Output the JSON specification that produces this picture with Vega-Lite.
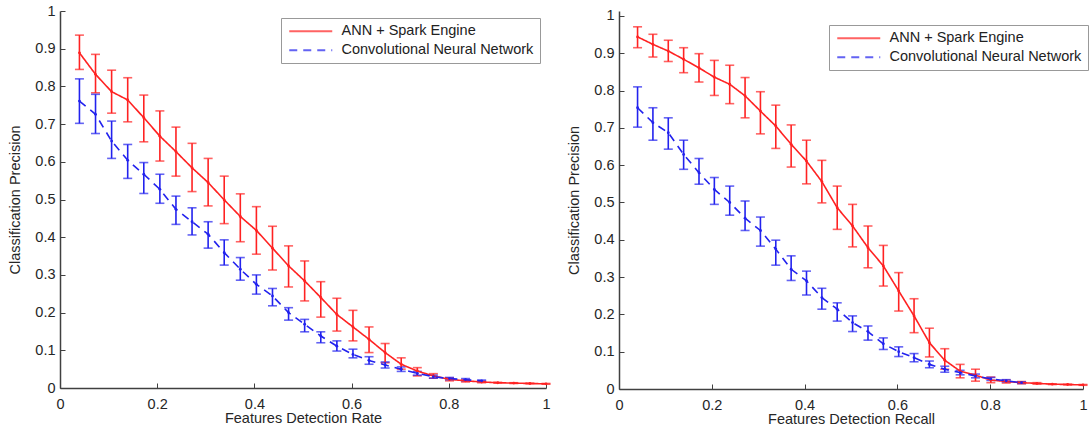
{
  "$schema": "https://vega.github.io/schema/vega-lite/v6.json",
  "background": "white",
  "padding": {"left": 7, "top": 3, "right": 2, "bottom": 2},
  "spacing": 73,
  "bounds": "flush",
  "config": {
    "font": "Liberation Sans",
    "view": {"stroke": null},
    "axis": {
      "labelFont": "Liberation Sans",
      "titleFont": "Liberation Sans",
      "labelFontSize": 14.5,
      "titleFontSize": 14.5,
      "titleFontWeight": "normal",
      "labelColor": "#262626",
      "titleColor": "#262626",
      "domainColor": "#404040",
      "tickColor": "#404040",
      "domainWidth": 1.5,
      "grid": false,
      "tickSize": -5,
      "labelFlush": false
    },
    "axisX": {"labelPadding": 14, "titlePadding": 1},
    "axisY": {"labelPadding": 10, "titlePadding": 12},
    "legend": {
      "title": null,
      "symbolType": "M-1,0H7.6",
      "symbolSize": 100,
      "symbolStrokeWidth": 2,
      "labelFontSize": 14.5,
      "labelFont": "Liberation Sans",
      "labelColor": "#222222",
      "labelLimit": 0,
      "padding": 6,
      "rowPadding": 4,
      "strokeColor": "#999999",
      "fillColor": "white",
      "labelOffset": 40
    }
  },
  "datasets": {
    "rate": [
      {"s": "ANN + Spark Engine", "x": 0.04, "y": 0.889, "lo": 0.845, "hi": 0.936},
      {"s": "ANN + Spark Engine", "x": 0.0731, "y": 0.832, "lo": 0.783, "hi": 0.885},
      {"s": "ANN + Spark Engine", "x": 0.1062, "y": 0.786, "lo": 0.729, "hi": 0.843},
      {"s": "ANN + Spark Engine", "x": 0.1393, "y": 0.764, "lo": 0.706, "hi": 0.823},
      {"s": "ANN + Spark Engine", "x": 0.1724, "y": 0.717, "lo": 0.653, "hi": 0.777},
      {"s": "ANN + Spark Engine", "x": 0.2055, "y": 0.668, "lo": 0.602, "hi": 0.735},
      {"s": "ANN + Spark Engine", "x": 0.2386, "y": 0.627, "lo": 0.562, "hi": 0.692},
      {"s": "ANN + Spark Engine", "x": 0.2717, "y": 0.584, "lo": 0.521, "hi": 0.649},
      {"s": "ANN + Spark Engine", "x": 0.3048, "y": 0.545, "lo": 0.483, "hi": 0.609},
      {"s": "ANN + Spark Engine", "x": 0.3379, "y": 0.499, "lo": 0.436, "hi": 0.562},
      {"s": "ANN + Spark Engine", "x": 0.371, "y": 0.455, "lo": 0.388, "hi": 0.515},
      {"s": "ANN + Spark Engine", "x": 0.4041, "y": 0.418, "lo": 0.355, "hi": 0.481},
      {"s": "ANN + Spark Engine", "x": 0.4372, "y": 0.371, "lo": 0.313, "hi": 0.429},
      {"s": "ANN + Spark Engine", "x": 0.4703, "y": 0.324, "lo": 0.268, "hi": 0.377},
      {"s": "ANN + Spark Engine", "x": 0.5034, "y": 0.284, "lo": 0.231, "hi": 0.337},
      {"s": "ANN + Spark Engine", "x": 0.5366, "y": 0.24, "lo": 0.188, "hi": 0.282},
      {"s": "ANN + Spark Engine", "x": 0.5697, "y": 0.195, "lo": 0.151, "hi": 0.238},
      {"s": "ANN + Spark Engine", "x": 0.6028, "y": 0.162, "lo": 0.125, "hi": 0.206},
      {"s": "ANN + Spark Engine", "x": 0.6359, "y": 0.129, "lo": 0.094, "hi": 0.162},
      {"s": "ANN + Spark Engine", "x": 0.669, "y": 0.094, "lo": 0.067, "hi": 0.118},
      {"s": "ANN + Spark Engine", "x": 0.7021, "y": 0.063, "lo": 0.05, "hi": 0.08},
      {"s": "ANN + Spark Engine", "x": 0.7352, "y": 0.045, "lo": 0.032, "hi": 0.054},
      {"s": "ANN + Spark Engine", "x": 0.7683, "y": 0.032, "lo": 0.026, "hi": 0.038},
      {"s": "ANN + Spark Engine", "x": 0.8014, "y": 0.023, "lo": 0.019, "hi": 0.027},
      {"s": "ANN + Spark Engine", "x": 0.8345, "y": 0.019, "lo": 0.016, "hi": 0.022},
      {"s": "ANN + Spark Engine", "x": 0.8676, "y": 0.016, "lo": 0.014, "hi": 0.018},
      {"s": "ANN + Spark Engine", "x": 0.9007, "y": 0.014, "lo": 0.013, "hi": 0.015},
      {"s": "ANN + Spark Engine", "x": 0.9338, "y": 0.013, "lo": 0.012, "hi": 0.014},
      {"s": "ANN + Spark Engine", "x": 0.9669, "y": 0.012, "lo": 0.011, "hi": 0.013},
      {"s": "ANN + Spark Engine", "x": 1.0, "y": 0.011, "lo": 0.01, "hi": 0.012},
      {"s": "Convolutional Neural Network", "x": 0.04, "y": 0.761, "lo": 0.702, "hi": 0.82},
      {"s": "Convolutional Neural Network", "x": 0.0731, "y": 0.726, "lo": 0.675, "hi": 0.779},
      {"s": "Convolutional Neural Network", "x": 0.1062, "y": 0.655, "lo": 0.609, "hi": 0.708},
      {"s": "Convolutional Neural Network", "x": 0.1393, "y": 0.604, "lo": 0.556, "hi": 0.646},
      {"s": "Convolutional Neural Network", "x": 0.1724, "y": 0.567, "lo": 0.516, "hi": 0.598},
      {"s": "Convolutional Neural Network", "x": 0.2055, "y": 0.527, "lo": 0.49, "hi": 0.567},
      {"s": "Convolutional Neural Network", "x": 0.2386, "y": 0.474, "lo": 0.434, "hi": 0.509},
      {"s": "Convolutional Neural Network", "x": 0.2717, "y": 0.441, "lo": 0.406, "hi": 0.478},
      {"s": "Convolutional Neural Network", "x": 0.3048, "y": 0.408, "lo": 0.371, "hi": 0.441},
      {"s": "Convolutional Neural Network", "x": 0.3379, "y": 0.359, "lo": 0.326, "hi": 0.393},
      {"s": "Convolutional Neural Network", "x": 0.371, "y": 0.315, "lo": 0.286, "hi": 0.346},
      {"s": "Convolutional Neural Network", "x": 0.4041, "y": 0.275, "lo": 0.249, "hi": 0.3},
      {"s": "Convolutional Neural Network", "x": 0.4372, "y": 0.244, "lo": 0.218, "hi": 0.264},
      {"s": "Convolutional Neural Network", "x": 0.4703, "y": 0.2, "lo": 0.18, "hi": 0.213},
      {"s": "Convolutional Neural Network", "x": 0.5034, "y": 0.169, "lo": 0.149, "hi": 0.182},
      {"s": "Convolutional Neural Network", "x": 0.5366, "y": 0.138, "lo": 0.12, "hi": 0.149},
      {"s": "Convolutional Neural Network", "x": 0.5697, "y": 0.111, "lo": 0.098, "hi": 0.125},
      {"s": "Convolutional Neural Network", "x": 0.6028, "y": 0.089, "lo": 0.08, "hi": 0.103},
      {"s": "Convolutional Neural Network", "x": 0.6359, "y": 0.073, "lo": 0.063, "hi": 0.083},
      {"s": "Convolutional Neural Network", "x": 0.669, "y": 0.061, "lo": 0.053, "hi": 0.069},
      {"s": "Convolutional Neural Network", "x": 0.7021, "y": 0.05, "lo": 0.044, "hi": 0.056},
      {"s": "Convolutional Neural Network", "x": 0.7352, "y": 0.039, "lo": 0.034, "hi": 0.044},
      {"s": "Convolutional Neural Network", "x": 0.7683, "y": 0.03, "lo": 0.026, "hi": 0.034},
      {"s": "Convolutional Neural Network", "x": 0.8014, "y": 0.025, "lo": 0.022, "hi": 0.028},
      {"s": "Convolutional Neural Network", "x": 0.8345, "y": 0.022, "lo": 0.019, "hi": 0.025},
      {"s": "Convolutional Neural Network", "x": 0.8676, "y": 0.019, "lo": 0.017, "hi": 0.021}
    ],
    "recall": [
      {"s": "ANN + Spark Engine", "x": 0.04, "y": 0.944, "lo": 0.915, "hi": 0.971},
      {"s": "ANN + Spark Engine", "x": 0.0731, "y": 0.924, "lo": 0.89, "hi": 0.951},
      {"s": "ANN + Spark Engine", "x": 0.1062, "y": 0.906, "lo": 0.878, "hi": 0.935},
      {"s": "ANN + Spark Engine", "x": 0.1393, "y": 0.884, "lo": 0.848, "hi": 0.915},
      {"s": "ANN + Spark Engine", "x": 0.1724, "y": 0.861, "lo": 0.823, "hi": 0.899},
      {"s": "ANN + Spark Engine", "x": 0.2055, "y": 0.836, "lo": 0.787, "hi": 0.881},
      {"s": "ANN + Spark Engine", "x": 0.2386, "y": 0.817, "lo": 0.765, "hi": 0.868},
      {"s": "ANN + Spark Engine", "x": 0.2717, "y": 0.786, "lo": 0.727, "hi": 0.835},
      {"s": "ANN + Spark Engine", "x": 0.3048, "y": 0.745, "lo": 0.684, "hi": 0.797},
      {"s": "ANN + Spark Engine", "x": 0.3379, "y": 0.705, "lo": 0.645, "hi": 0.761},
      {"s": "ANN + Spark Engine", "x": 0.371, "y": 0.656, "lo": 0.595, "hi": 0.708},
      {"s": "ANN + Spark Engine", "x": 0.4041, "y": 0.611, "lo": 0.55, "hi": 0.667},
      {"s": "ANN + Spark Engine", "x": 0.4372, "y": 0.556, "lo": 0.499, "hi": 0.613},
      {"s": "ANN + Spark Engine", "x": 0.4703, "y": 0.486, "lo": 0.428, "hi": 0.544},
      {"s": "ANN + Spark Engine", "x": 0.5034, "y": 0.437, "lo": 0.381, "hi": 0.495},
      {"s": "ANN + Spark Engine", "x": 0.5366, "y": 0.379, "lo": 0.325, "hi": 0.437},
      {"s": "ANN + Spark Engine", "x": 0.5697, "y": 0.33, "lo": 0.276, "hi": 0.385},
      {"s": "ANN + Spark Engine", "x": 0.6028, "y": 0.263, "lo": 0.209, "hi": 0.312},
      {"s": "ANN + Spark Engine", "x": 0.6359, "y": 0.196, "lo": 0.151, "hi": 0.242},
      {"s": "ANN + Spark Engine", "x": 0.669, "y": 0.124, "lo": 0.086, "hi": 0.163},
      {"s": "ANN + Spark Engine", "x": 0.7021, "y": 0.077, "lo": 0.053, "hi": 0.108},
      {"s": "ANN + Spark Engine", "x": 0.7352, "y": 0.048, "lo": 0.03, "hi": 0.066},
      {"s": "ANN + Spark Engine", "x": 0.7683, "y": 0.037, "lo": 0.021, "hi": 0.053},
      {"s": "ANN + Spark Engine", "x": 0.8014, "y": 0.024, "lo": 0.017, "hi": 0.032},
      {"s": "ANN + Spark Engine", "x": 0.8345, "y": 0.02, "lo": 0.016, "hi": 0.024},
      {"s": "ANN + Spark Engine", "x": 0.8676, "y": 0.017, "lo": 0.014, "hi": 0.02},
      {"s": "ANN + Spark Engine", "x": 0.9007, "y": 0.015, "lo": 0.013, "hi": 0.017},
      {"s": "ANN + Spark Engine", "x": 0.9338, "y": 0.013, "lo": 0.012, "hi": 0.014},
      {"s": "ANN + Spark Engine", "x": 0.9669, "y": 0.012, "lo": 0.011, "hi": 0.013},
      {"s": "ANN + Spark Engine", "x": 1.0, "y": 0.011, "lo": 0.01, "hi": 0.012},
      {"s": "Convolutional Neural Network", "x": 0.04, "y": 0.754, "lo": 0.702, "hi": 0.81},
      {"s": "Convolutional Neural Network", "x": 0.0731, "y": 0.714, "lo": 0.667, "hi": 0.754},
      {"s": "Convolutional Neural Network", "x": 0.1062, "y": 0.687, "lo": 0.643, "hi": 0.727},
      {"s": "Convolutional Neural Network", "x": 0.1393, "y": 0.629, "lo": 0.589, "hi": 0.667},
      {"s": "Convolutional Neural Network", "x": 0.1724, "y": 0.58, "lo": 0.549, "hi": 0.618},
      {"s": "Convolutional Neural Network", "x": 0.2055, "y": 0.535, "lo": 0.495, "hi": 0.567},
      {"s": "Convolutional Neural Network", "x": 0.2386, "y": 0.5, "lo": 0.466, "hi": 0.544},
      {"s": "Convolutional Neural Network", "x": 0.2717, "y": 0.458, "lo": 0.425, "hi": 0.504},
      {"s": "Convolutional Neural Network", "x": 0.3048, "y": 0.425, "lo": 0.383, "hi": 0.461},
      {"s": "Convolutional Neural Network", "x": 0.3379, "y": 0.375, "lo": 0.332, "hi": 0.399},
      {"s": "Convolutional Neural Network", "x": 0.371, "y": 0.321, "lo": 0.291, "hi": 0.357},
      {"s": "Convolutional Neural Network", "x": 0.4041, "y": 0.29, "lo": 0.252, "hi": 0.316},
      {"s": "Convolutional Neural Network", "x": 0.4372, "y": 0.245, "lo": 0.214, "hi": 0.27},
      {"s": "Convolutional Neural Network", "x": 0.4703, "y": 0.214, "lo": 0.182, "hi": 0.231},
      {"s": "Convolutional Neural Network", "x": 0.5034, "y": 0.178, "lo": 0.154, "hi": 0.196},
      {"s": "Convolutional Neural Network", "x": 0.5366, "y": 0.154, "lo": 0.131, "hi": 0.169},
      {"s": "Convolutional Neural Network", "x": 0.5697, "y": 0.121, "lo": 0.106, "hi": 0.137},
      {"s": "Convolutional Neural Network", "x": 0.6028, "y": 0.1, "lo": 0.087, "hi": 0.113},
      {"s": "Convolutional Neural Network", "x": 0.6359, "y": 0.084, "lo": 0.073, "hi": 0.095},
      {"s": "Convolutional Neural Network", "x": 0.669, "y": 0.066, "lo": 0.057, "hi": 0.075},
      {"s": "Convolutional Neural Network", "x": 0.7021, "y": 0.053, "lo": 0.045, "hi": 0.061},
      {"s": "Convolutional Neural Network", "x": 0.7352, "y": 0.044, "lo": 0.038, "hi": 0.05},
      {"s": "Convolutional Neural Network", "x": 0.7683, "y": 0.035, "lo": 0.03, "hi": 0.04},
      {"s": "Convolutional Neural Network", "x": 0.8014, "y": 0.027, "lo": 0.023, "hi": 0.031},
      {"s": "Convolutional Neural Network", "x": 0.8345, "y": 0.022, "lo": 0.019, "hi": 0.025},
      {"s": "Convolutional Neural Network", "x": 0.8676, "y": 0.017, "lo": 0.015, "hi": 0.019}
    ]
  },
  "hconcat": [
    {
      "width": 486,
      "height": 377,
      "data": {"name": "rate"},
      "layer": [
        {
          "mark": {"type": "errorbar", "ticks": {"size": 9}, "thickness": 1.6},
          "encoding": {
            "x": {"field": "x", "type": "quantitative", "scale": {"domain": [0, 1], "nice": false}, "axis": {"title": "Features Detection Rate", "values": [0, 0.2, 0.4, 0.6, 0.8, 1], "format": "~g"}},
            "y": {"field": "lo", "type": "quantitative", "scale": {"domain": [0, 1], "nice": false}, "axis": {"title": "Classification Precision", "values": [0, 0.1, 0.2, 0.3, 0.4, 0.5, 0.6, 0.7, 0.8, 0.9, 1], "format": "~g"}},
            "y2": {"field": "hi"},
            "color": {"field": "s", "type": "nominal", "scale": {"domain": ["ANN + Spark Engine", "Convolutional Neural Network"], "range": ["#ff2222", "#2222ee"]}, "legend": {"orient": "none", "legendX": 221, "legendY": 7}}
          }
        },
        {
          "mark": {"type": "line", "strokeWidth": 1.6, "point": {"filled": true, "size": 8}},
          "encoding": {
            "x": {"field": "x", "type": "quantitative", "scale": {"domain": [0, 1], "nice": false}, "axis": {"title": "Features Detection Rate", "values": [0, 0.2, 0.4, 0.6, 0.8, 1], "format": "~g"}},
            "y": {"field": "y", "type": "quantitative", "scale": {"domain": [0, 1], "nice": false}, "axis": {"title": "Classification Precision", "values": [0, 0.1, 0.2, 0.3, 0.4, 0.5, 0.6, 0.7, 0.8, 0.9, 1], "format": "~g"}},
            "color": {"field": "s", "type": "nominal", "scale": {"domain": ["ANN + Spark Engine", "Convolutional Neural Network"], "range": ["#ff2222", "#2222ee"]}, "legend": {"orient": "none", "legendX": 221, "legendY": 7}},
            "strokeDash": {"field": "s", "type": "nominal", "scale": {"domain": ["ANN + Spark Engine", "Convolutional Neural Network"], "range": [[1, 0], [8, 6]]}, "legend": {"orient": "none", "legendX": 221, "legendY": 7}}
          }
        }
      ]
    },
    {
      "width": 464,
      "height": 378,
      "data": {"name": "recall"},
      "layer": [
        {
          "mark": {"type": "errorbar", "ticks": {"size": 9}, "thickness": 1.6},
          "encoding": {
            "x": {"field": "x", "type": "quantitative", "scale": {"domain": [0, 1], "nice": false}, "axis": {"title": "Features Detection Recall", "values": [0, 0.2, 0.4, 0.6, 0.8, 1], "format": "~g"}},
            "y": {"field": "lo", "type": "quantitative", "scale": {"domain": [0, 1.0134], "nice": false}, "axis": {"title": "Classification Precision", "values": [0, 0.1, 0.2, 0.3, 0.4, 0.5, 0.6, 0.7, 0.8, 0.9, 1], "format": "~g"}},
            "y2": {"field": "hi"},
            "color": {"field": "s", "type": "nominal", "scale": {"domain": ["ANN + Spark Engine", "Convolutional Neural Network"], "range": ["#ff2222", "#2222ee"]}, "legend": {"orient": "none", "legendX": 210, "legendY": 14}}
          }
        },
        {
          "mark": {"type": "line", "strokeWidth": 1.6, "point": {"filled": true, "size": 8}},
          "encoding": {
            "x": {"field": "x", "type": "quantitative", "scale": {"domain": [0, 1], "nice": false}, "axis": {"title": "Features Detection Recall", "values": [0, 0.2, 0.4, 0.6, 0.8, 1], "format": "~g"}},
            "y": {"field": "y", "type": "quantitative", "scale": {"domain": [0, 1.0134], "nice": false}, "axis": {"title": "Classification Precision", "values": [0, 0.1, 0.2, 0.3, 0.4, 0.5, 0.6, 0.7, 0.8, 0.9, 1], "format": "~g"}},
            "color": {"field": "s", "type": "nominal", "scale": {"domain": ["ANN + Spark Engine", "Convolutional Neural Network"], "range": ["#ff2222", "#2222ee"]}, "legend": {"orient": "none", "legendX": 210, "legendY": 14}},
            "strokeDash": {"field": "s", "type": "nominal", "scale": {"domain": ["ANN + Spark Engine", "Convolutional Neural Network"], "range": [[1, 0], [8, 6]]}, "legend": {"orient": "none", "legendX": 210, "legendY": 14}}
          }
        }
      ]
    }
  ],
  "resolve": {
    "scale": {"color": "independent", "strokeDash": "independent"},
    "legend": {"color": "independent", "strokeDash": "independent"}
  }
}
